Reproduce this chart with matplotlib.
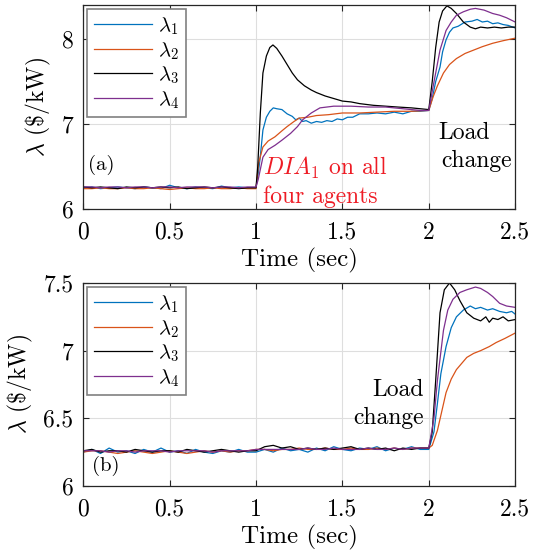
import matplotlib
matplotlib.use("Agg")
import matplotlib.pyplot as plt
import numpy as np

plt.rcParams["font.family"] = "serif"
plt.rcParams["font.serif"] = ["cmr10"]
plt.rcParams["mathtext.fontset"] = "cm"
plt.rcParams["axes.formatter.use_mathtext"] = True

BLUE = "#0072BD"
ORANGE = "#D95319"
BLACK = "#000000"
PURPLE = "#7E2F8E"

# ---- panel (a): flat part before the DIA, sampled every 0.05 s ----
a_base_t = np.round(np.arange(0, 1.0, 0.05), 2)
a_base_l1 = [6.25, 6.26, 6.24, 6.25, 6.26, 6.25, 6.24, 6.26, 6.25, 6.24,
             6.28, 6.25, 6.24, 6.26, 6.25, 6.24, 6.27, 6.25, 6.26, 6.25]
a_base_l2 = [6.24, 6.24, 6.25, 6.24, 6.24, 6.25, 6.24, 6.24, 6.25, 6.24,
             6.23, 6.24, 6.25, 6.24, 6.24, 6.25, 6.24, 6.24, 6.25, 6.24]
a_base_l3 = [6.26, 6.25, 6.26, 6.25, 6.24, 6.26, 6.25, 6.26, 6.25, 6.26,
             6.25, 6.26, 6.24, 6.25, 6.26, 6.25, 6.26, 6.25, 6.24, 6.25]
a_base_l4 = [6.26, 6.26, 6.25, 6.26, 6.26, 6.25, 6.26, 6.26, 6.25, 6.26,
             6.26, 6.25, 6.26, 6.26, 6.26, 6.25, 6.26, 6.26, 6.25, 6.26]

# panel (a): response to the DIA at t=1 and the load change at t=2
a_l1_t = [1.0, 1.015, 1.025, 1.04, 1.06, 1.08, 1.1, 1.12, 1.15, 1.18, 1.21, 1.23,
          1.25, 1.27, 1.29, 1.32, 1.35, 1.38, 1.41, 1.44, 1.47, 1.5, 1.53, 1.56,
          1.6, 1.65, 1.7, 1.75, 1.8, 1.85, 1.9, 1.95, 2.0, 2.02, 2.04, 2.065,
          2.08, 2.1, 2.12, 2.14, 2.17, 2.21, 2.25, 2.28, 2.31, 2.34, 2.37, 2.4,
          2.43, 2.46, 2.5]
a_l1 = [6.25, 6.45, 6.62, 6.93, 7.08, 7.15, 7.19, 7.18, 7.17, 7.12, 7.09, 7.05,
        7.07, 7.03, 7.04, 7.01, 7.03, 7.02, 7.04, 7.03, 7.06, 7.05, 7.08, 7.08,
        7.12, 7.12, 7.13, 7.12, 7.14, 7.12, 7.15, 7.15, 7.16, 7.3, 7.5, 7.67,
        7.85, 7.99, 8.08, 8.13, 8.15, 8.2, 8.21, 8.23, 8.2, 8.21, 8.18, 8.19,
        8.17, 8.16, 8.13]

a_l2_t = [1.0, 1.015, 1.04, 1.07, 1.11, 1.15, 1.18, 1.22, 1.25, 1.3, 1.35, 1.42,
          1.5, 1.6, 1.7, 1.8, 1.9, 2.0, 2.025, 2.05, 2.085, 2.12, 2.16, 2.21,
          2.26, 2.31, 2.37, 2.43, 2.5]
a_l2 = [6.24, 6.54, 6.73, 6.8, 6.85, 6.92, 6.97, 7.03, 7.07, 7.08, 7.1, 7.11,
        7.13, 7.13, 7.14, 7.15, 7.15, 7.16, 7.32, 7.45, 7.6, 7.7, 7.77, 7.83,
        7.87, 7.91, 7.95, 7.98, 8.01]

a_l3_t = [1.0, 1.01, 1.025, 1.04, 1.06, 1.08, 1.098, 1.12, 1.15, 1.18, 1.21, 1.24,
          1.28, 1.32, 1.35, 1.4, 1.45, 1.5, 1.55, 1.6, 1.68, 1.75, 1.82, 1.9,
          1.95, 2.0, 2.02, 2.04, 2.06, 2.08, 2.105, 2.13, 2.16, 2.2, 2.24, 2.27,
          2.3, 2.34, 2.38, 2.42, 2.46, 2.5]
a_l3 = [6.25, 6.5, 7.13, 7.6, 7.8, 7.9, 7.93, 7.89, 7.8, 7.7, 7.6, 7.52,
        7.45, 7.4, 7.37, 7.33, 7.3, 7.27, 7.26, 7.24, 7.22, 7.21, 7.2, 7.19,
        7.18, 7.17, 7.5, 7.9, 8.2, 8.33, 8.39, 8.36, 8.3, 8.2, 8.14, 8.12,
        8.14, 8.13, 8.14, 8.13, 8.14, 8.14]

a_l4_t = [1.0, 1.013, 1.04, 1.07, 1.11, 1.15, 1.2, 1.24, 1.27, 1.32, 1.37, 1.45,
          1.55, 1.65, 1.75, 1.85, 1.95, 2.0, 2.025, 2.065, 2.1, 2.13, 2.16, 2.2,
          2.24, 2.27, 2.32, 2.37, 2.41, 2.45, 2.5]
a_l4 = [6.26, 6.35, 6.61, 6.7, 6.75, 6.81, 6.89, 6.97, 7.05, 7.13, 7.19, 7.21,
        7.21, 7.2, 7.2, 7.18, 7.16, 7.16, 7.44, 7.87, 8.1, 8.2, 8.28, 8.32,
        8.35, 8.36, 8.34, 8.3, 8.28, 8.25, 8.2]

# ---- panel (b): flat part before the load change, sampled every 0.05 s ----
b_base_t = np.round(np.arange(0, 2.0, 0.05), 2)
b_base_l1 = [6.25, 6.27, 6.24, 6.28, 6.25, 6.26, 6.24, 6.27, 6.25, 6.28,
             6.25, 6.26, 6.24, 6.27, 6.25, 6.24, 6.26, 6.25, 6.27, 6.25,
             6.25, 6.27, 6.25, 6.28, 6.26, 6.27, 6.25, 6.28, 6.26, 6.29,
             6.27, 6.26, 6.28, 6.27, 6.29, 6.26, 6.28, 6.27, 6.29, 6.27]
b_base_l2 = [6.25, 6.26, 6.26, 6.25, 6.24, 6.25, 6.26, 6.25, 6.24, 6.25,
             6.26, 6.25, 6.24, 6.25, 6.26, 6.25, 6.26, 6.25, 6.26, 6.26,
             6.27, 6.27, 6.26, 6.27, 6.27, 6.28, 6.27, 6.27, 6.28, 6.27,
             6.27, 6.28, 6.27, 6.27, 6.28, 6.27, 6.28, 6.27, 6.28, 6.28]
b_base_l3 = [6.26, 6.27, 6.25, 6.26, 6.26, 6.25, 6.27, 6.26, 6.25, 6.26,
             6.26, 6.25, 6.27, 6.26, 6.25, 6.26, 6.27, 6.26, 6.25, 6.26,
             6.26, 6.29, 6.30, 6.28, 6.29, 6.27, 6.28, 6.27, 6.28, 6.27,
             6.28, 6.29, 6.27, 6.28, 6.27, 6.28, 6.26, 6.28, 6.27, 6.28]
b_base_l4 = [6.26, 6.26, 6.26, 6.25, 6.26, 6.26, 6.25, 6.26, 6.26, 6.26,
             6.25, 6.26, 6.26, 6.26, 6.26, 6.25, 6.26, 6.26, 6.26, 6.26,
             6.27, 6.27, 6.27, 6.27, 6.27, 6.27, 6.28, 6.27, 6.27, 6.28,
             6.27, 6.27, 6.27, 6.28, 6.27, 6.27, 6.28, 6.27, 6.28, 6.28]

# panel (b): response to the load change at t=2
b_l1_t = [2.0, 2.03, 2.05, 2.07, 2.1, 2.13, 2.16, 2.2, 2.24, 2.27, 2.3, 2.34,
          2.37, 2.41, 2.45, 2.48, 2.5]
b_l1 = [6.27, 6.4, 6.61, 6.83, 7.03, 7.17, 7.25, 7.3, 7.33, 7.31, 7.32, 7.3,
        7.31, 7.29, 7.28, 7.29, 7.27]
b_l2_t = [2.0, 2.02, 2.05, 2.1, 2.13, 2.16, 2.22, 2.26, 2.3, 2.35, 2.39, 2.44, 2.5]
b_l2 = [6.28, 6.3, 6.41, 6.69, 6.79, 6.86, 6.95, 6.98, 7.0, 7.03, 7.06, 7.09, 7.13]
b_l3_t = [2.0, 2.02, 2.04, 2.065, 2.09, 2.12, 2.15, 2.18, 2.22, 2.26, 2.3, 2.33,
          2.35, 2.37, 2.4, 2.43, 2.46, 2.5]
b_l3 = [6.28, 6.4, 6.78, 7.28, 7.45, 7.5, 7.45, 7.37, 7.28, 7.24, 7.22, 7.25,
        7.21, 7.24, 7.23, 7.25, 7.22, 7.23]
b_l4_t = [2.0, 2.03, 2.05, 2.085, 2.11, 2.14, 2.18, 2.22, 2.27, 2.3, 2.34, 2.37,
          2.41, 2.45, 2.5]
b_l4 = [6.28, 6.5, 6.78, 7.15, 7.3, 7.38, 7.43, 7.45, 7.47, 7.46, 7.43, 7.4,
        7.35, 7.33, 7.32]

labels = [r"$\lambda_1$", r"$\lambda_2$", r"$\lambda_3$", r"$\lambda_4$"]
colors = [BLUE, ORANGE, BLACK, PURPLE]
x_ticks = [0, 0.5, 1, 1.5, 2, 2.5]


def style_axes(ax, ylim, yticks):
    ax.set_xlim(0, 2.5)
    ax.set_ylim(*ylim)
    ax.set_xticks(x_ticks)
    ax.set_xticklabels(["0", "0.5", "1", "1.5", "2", "2.5"])
    ax.set_yticks(yticks)
    ax.set_yticklabels([f"{v:g}" for v in yticks])
    ax.grid(True, color="#dedede", lw=0.8)
    ax.set_axisbelow(True)
    ax.tick_params(direction="in", top=True, right=True, length=4,
                   labelsize=17, color="#262626")
    ax.tick_params(axis="x", pad=9)
    ax.tick_params(axis="y", pad=7)
    for s in ax.spines.values():
        s.set_color("#262626")
        s.set_linewidth(0.9)
    ax.set_xlabel("Time (sec)", fontsize=18, labelpad=3)
    ax.set_ylabel(r"$\lambda$ (\$/kW)", fontsize=17, labelpad=6)
    leg = ax.legend(loc="upper left", fontsize=15, handlelength=2.8,
                    labelspacing=0.15, fancybox=False, framealpha=1,
                    edgecolor="#808080", borderaxespad=0.2, borderpad=0.3,
                    handletextpad=0.3)
    leg.get_frame().set_linewidth(1.2)


fig = plt.figure(figsize=(5.44, 5.56), dpi=100)
ax1 = fig.add_axes([0.153, 0.624, 0.794, 0.367])
ax2 = fig.add_axes([0.153, 0.126, 0.794, 0.365])

a_sets = [(a_base_l1, a_l1_t, a_l1), (a_base_l2, a_l2_t, a_l2),
          (a_base_l3, a_l3_t, a_l3), (a_base_l4, a_l4_t, a_l4)]
for (base, t, y), c, lab in zip(a_sets, colors, labels):
    ax1.plot(np.concatenate([a_base_t, t]), np.concatenate([base, y]),
             color=c, lw=0.9, label=lab)

b_sets = [(b_base_l1, b_l1_t, b_l1), (b_base_l2, b_l2_t, b_l2),
          (b_base_l3, b_l3_t, b_l3), (b_base_l4, b_l4_t, b_l4)]
for (base, t, y), c, lab in zip(b_sets, colors, labels):
    ax2.plot(np.concatenate([b_base_t, t]), np.concatenate([base, y]),
             color=c, lw=0.9, label=lab)

style_axes(ax1, (6, 8.4), [6, 7, 8])
style_axes(ax2, (6, 7.5), [6, 6.5, 7, 7.5])

ax1.text(0.03, 6.52, "(a)", fontsize=15, va="center")
ax1.text(1.04, 6.48, r"$DIA_1$ on all", fontsize=17, color="#ee1c25",
         va="center")
ax1.text(1.04, 6.14, "four agents", fontsize=17, color="#ee1c25", va="center")
ax1.text(2.055, 6.9, "Load", fontsize=17, va="center")
ax1.text(2.075, 6.57, "change", fontsize=17, va="center")

ax2.text(0.05, 6.15, "(b)", fontsize=15, va="center")
ax2.text(1.97, 6.71, "Load", fontsize=17, va="center", ha="right")
ax2.text(1.97, 6.5, "change", fontsize=17, va="center", ha="right")

fig.savefig("out.png", dpi=100)
